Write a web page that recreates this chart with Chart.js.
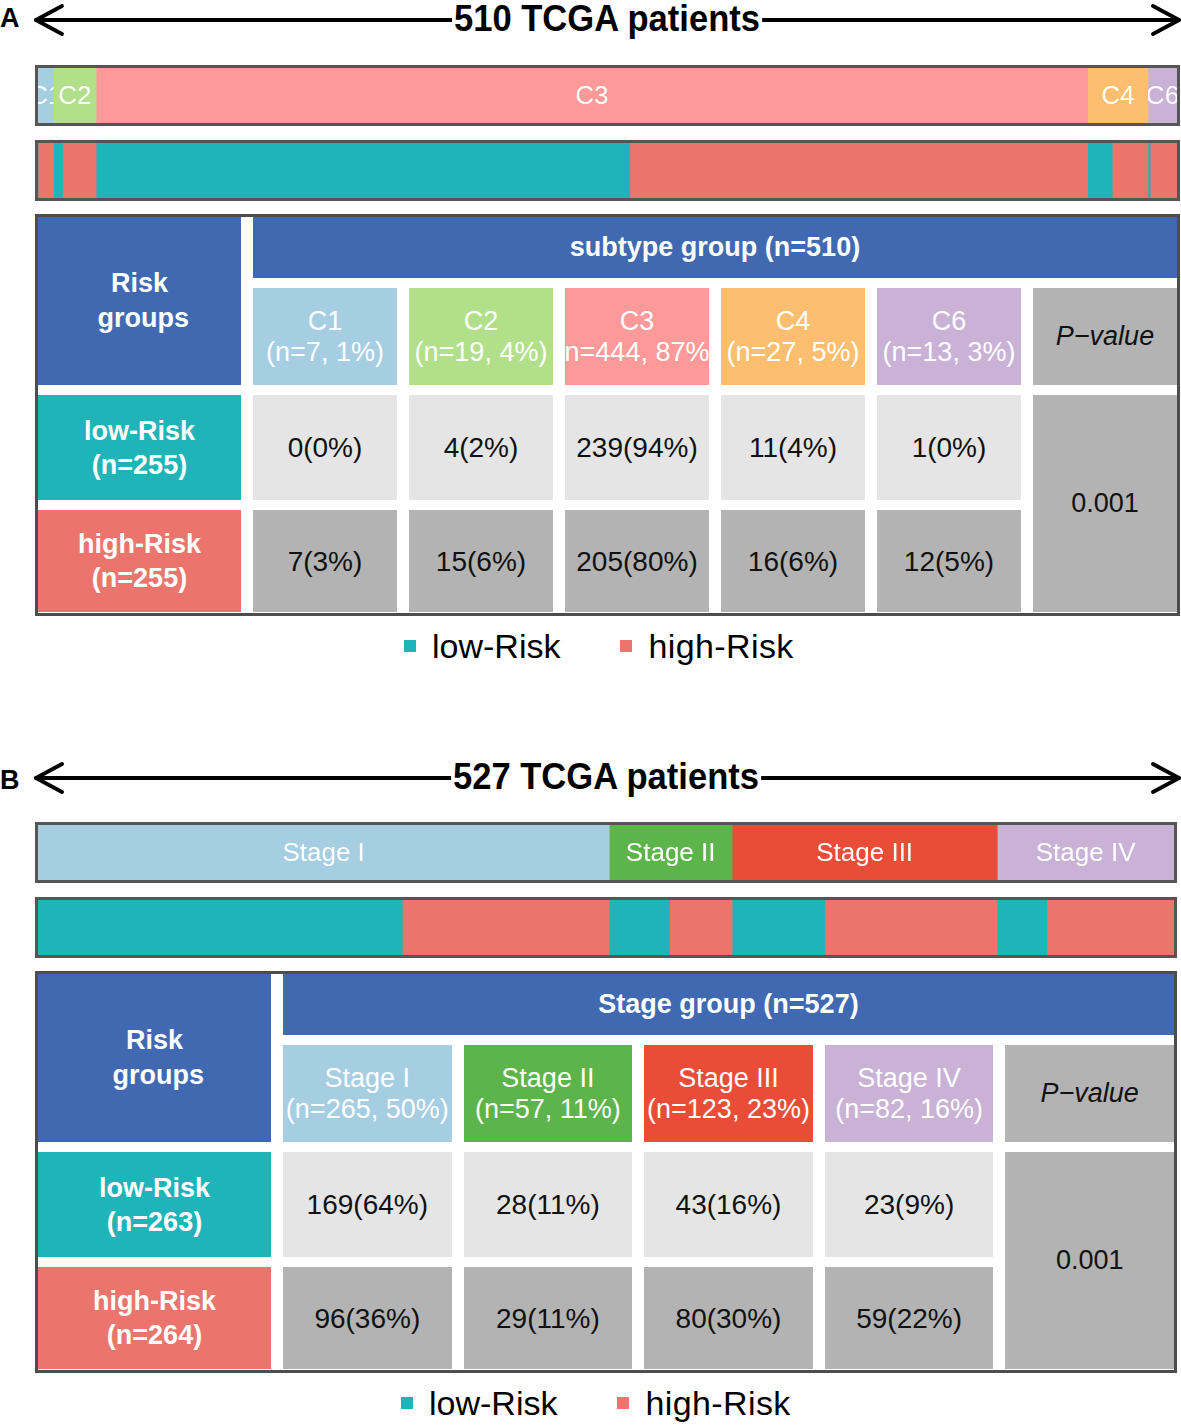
<!DOCTYPE html>
<html>
<head>
<meta charset="utf-8">
<script src="https://cdn.jsdelivr.net/npm/chart.js"></script>
<style>
  body { margin: 0; background: #fff; width: 1181px; height: 1425px; position: relative; overflow: hidden;
         font-family: "Liberation Sans", Arial, sans-serif; }
  .letter { position: absolute; left: 0; font-weight: bold; font-size: 27px; line-height: 30px; }
  .title { position: absolute; font-weight: bold; font-size: 36px; line-height: 40px; background: #fff;
           padding: 0 2px; white-space: nowrap; transform: translateX(-50%) scaleX(0.96); }
  .arrow { position: absolute; left: 0; }
  .barbox { position: absolute; left: 35px; border: 3px solid #555; box-sizing: border-box; }
  .barbox canvas { display: block; }
  .tbl { position: absolute; left: 35px; border: 3px solid #4d4d4d; box-sizing: border-box; display: grid;
         row-gap: 10px; column-gap: 12px; background: #fff; grid-template-rows: 61px 97px 105px 102px; }
  .cell { display: flex; flex-direction: column; align-items: center; justify-content: center; text-align: center;
          overflow: hidden; white-space: nowrap; font-size: 27px; line-height: 31px; }
  .hd { background: #4169b2; color: #fff; font-weight: bold; line-height: 35px; }
  .risk { color: #fff; font-weight: bold; line-height: 34px; }
  .lo { background: #e5e5e5; color: #111; font-size: 28px; }
  .hi { background: #b3b3b3; color: #111; font-size: 28px; }
  .grp { color: #fff; }
  .legend { position: absolute; height: 40px; line-height: 40px; font-size: 34px; display: flex; align-items: center; }
  .legend .sq { width: 12px; height: 12px; margin-right: 16px; }
</style>
</head>
<body>
<script>
// ---- data ----
const subtypeNames = ['C1', 'C2', 'C3', 'C4', 'C6'];
const subtypeLow = [0, 4, 239, 11, 1];
const subtypeHigh = [7, 15, 205, 16, 12];
const stageNames = ['Stage I', 'Stage II', 'Stage III', 'Stage IV'];
const stageLow = [169, 28, 43, 23];
const stageHigh = [96, 29, 80, 59];
const riskNames = ['low-Risk', 'high-Risk'];
const pValues = ['0.001', '0.001'];

// ---- colours ----
const subtypeColors = ['#a6cee3', '#b2df8a', '#fb9a99', '#fdbf6f', '#cab2d6'];
const stageColors = ['#a6cee3', '#5cb44b', '#e94d37', '#cab2d6'];
const riskColors = ['#1fb4b7', '#eb746c'];

const sum = a => a.reduce((s, v) => s + v, 0);
const pct = (v, t) => Math.round(v / t * 100) + '%';

function el(cls, html, style) {
  const d = document.createElement('div');
  if (cls) d.className = cls;
  if (html != null) d.innerHTML = html;
  Object.assign(d.style, style || {});
  document.body.appendChild(d);
  return d;
}

// text inside each segment of the group bar, clipped to the segment
const segLabels = {
  id: 'segLabels',
  afterDatasetsDraw(chart, args, opts) {
    if (!opts.show) return;
    const ctx = chart.ctx;
    chart.data.datasets.forEach((ds, i) => {
      const bar = chart.getDatasetMeta(i).data[0];
      const x0 = Math.min(bar.base, bar.x), x1 = Math.max(bar.base, bar.x);
      ctx.save();
      ctx.beginPath();
      ctx.rect(x0, bar.y - bar.height / 2, x1 - x0, bar.height);
      ctx.clip();
      ctx.fillStyle = '#fff';
      ctx.font = '26px "Liberation Sans", Arial, sans-serif';
      ctx.textAlign = 'center';
      ctx.textBaseline = 'middle';
      ctx.fillText(ds.label, (x0 + x1) / 2, bar.y + 1);
      ctx.restore();
    });
  }
};

function stackBar(box, datasets, total, show) {
  const c = document.createElement('canvas');
  box.appendChild(c);
  new Chart(c, {
    type: 'bar',
    data: { labels: [''], datasets },
    options: {
      indexAxis: 'y',
      responsive: true,
      maintainAspectRatio: false,
      animation: false,
      layout: { padding: 0 },
      scales: {
        x: { stacked: true, min: 0, max: total, display: false },
        y: { stacked: true, display: false }
      },
      plugins: { legend: { display: false }, tooltip: { enabled: false }, segLabels: { show } }
    },
    plugins: [segLabels]
  });
}

function buildPanel(p) {
  const n = p.names.length;
  const groupTotals = p.low.map((v, i) => v + p.high[i]);
  const total = sum(groupTotals), lowTotal = sum(p.low), highTotal = sum(p.high);

  el('letter', p.letter, { top: (p.top + p.letterDy) + 'px' });

  // double arrow with the title over it
  const svg = document.createElementNS('http://www.w3.org/2000/svg', 'svg');
  svg.setAttribute('width', 1181); svg.setAttribute('height', 40);
  svg.setAttribute('class', 'arrow');
  svg.style.top = p.top + 'px';
  svg.innerHTML =
    '<g stroke="#000" stroke-width="3.8" fill="none" stroke-linecap="round" stroke-linejoin="round">' +
    '<line x1="36" y1="20" x2="1179" y2="20"/>' +
    '<polyline points="62,6 36,20 62,34"/><polyline points="1153,6 1179,20 1153,34"/></g>';
  document.body.appendChild(svg);
  el('title', total + ' TCGA patients', { top: (p.top - 1) + 'px', left: p.titleX + 'px' });

  // group bar
  const b1 = el('barbox', null, { top: p.bar1 + 'px', width: p.width + 'px', height: '61px' });
  stackBar(b1, p.names.map((nm, i) => ({
    label: nm, data: [groupTotals[i]], backgroundColor: p.colors[i],
    borderWidth: 0, barPercentage: 1, categoryPercentage: 1
  })), total, true);

  // risk bar: low then high inside each group
  const b2 = el('barbox', null, { top: p.bar2 + 'px', width: p.width + 'px', height: '61px' });
  const riskSets = [];
  p.names.forEach((nm, i) => {
    [p.low[i], p.high[i]].forEach((v, k) => riskSets.push({
      label: riskNames[k], data: [v], backgroundColor: riskColors[k],
      borderWidth: 0, barPercentage: 1, categoryPercentage: 1
    }));
  });
  stackBar(b2, riskSets, total, false);

  // table
  const t = el('tbl', null, {
    top: p.table + 'px', width: p.width + 'px', height: '402px',
    gridTemplateColumns: p.firstCol + 'px repeat(' + (n + 1) + ', 1fr)'
  });
  const cell = (cls, html, r, c, style) => {
    const d = document.createElement('div');
    d.className = 'cell ' + cls;
    d.innerHTML = html;
    d.style.gridRow = r; d.style.gridColumn = c;
    Object.assign(d.style, style || {});
    t.appendChild(d);
  };
  cell('hd', 'Risk<br>&nbsp;groups', '1 / 3', '1');
  cell('hd', p.groupTitle + ' (n=' + total + ')', '1', '2 / ' + (n + 3));
  p.names.forEach((nm, i) => {
    cell('grp', nm + '<br>(n=' + groupTotals[i] + ', ' + pct(groupTotals[i], total) + ')', '2', String(i + 2),
      { background: p.colors[i] });
    cell('lo', p.low[i] + '(' + pct(p.low[i], lowTotal) + ')', '3', String(i + 2));
    cell('hi', p.high[i] + '(' + pct(p.high[i], highTotal) + ')', '4', String(i + 2));
  });
  cell('hi', '<i>P\u2212value</i>', '2', String(n + 2), { fontSize: '27px' });
  cell('hi', p.pValue, '3 / 5', String(n + 2), { fontSize: '27px' });
  cell('risk', riskNames[0] + '<br>(n=' + lowTotal + ')', '3', '1', { background: riskColors[0] });
  cell('risk', riskNames[1] + '<br>(n=' + highTotal + ')', '4', '1', { background: riskColors[1] });

  // legend
  const lg = el('legend', null, { top: p.legend + 'px', left: p.legendLeft + 'px' });
  riskNames.forEach((nm, k) => {
    const sq = document.createElement('div');
    sq.className = 'sq'; sq.style.background = riskColors[k];
    const tx = document.createElement('span');
    tx.textContent = nm;
    if (k === 0) tx.style.marginRight = '60px';
    if (k === 1) tx.style.letterSpacing = '0.4px';
    lg.appendChild(sq); lg.appendChild(tx);
  });
}

buildPanel({
  letter: 'A', top: 0, letterDy: 3, titleX: 607, bar1: 65, bar2: 140, table: 214, width: 1145, firstCol: 203,
  legend: 626, legendLeft: 404, names: subtypeNames, colors: subtypeColors,
  low: subtypeLow, high: subtypeHigh, groupTitle: 'subtype group', pValue: pValues[0]
});
buildPanel({
  letter: 'B', top: 758, letterDy: 7, titleX: 606, bar1: 822, bar2: 897, table: 971, width: 1142, firstCol: 233,
  legend: 1383, legendLeft: 401, names: stageNames, colors: stageColors,
  low: stageLow, high: stageHigh, groupTitle: 'Stage group', pValue: pValues[1]
});
</script>
</body>
</html>
